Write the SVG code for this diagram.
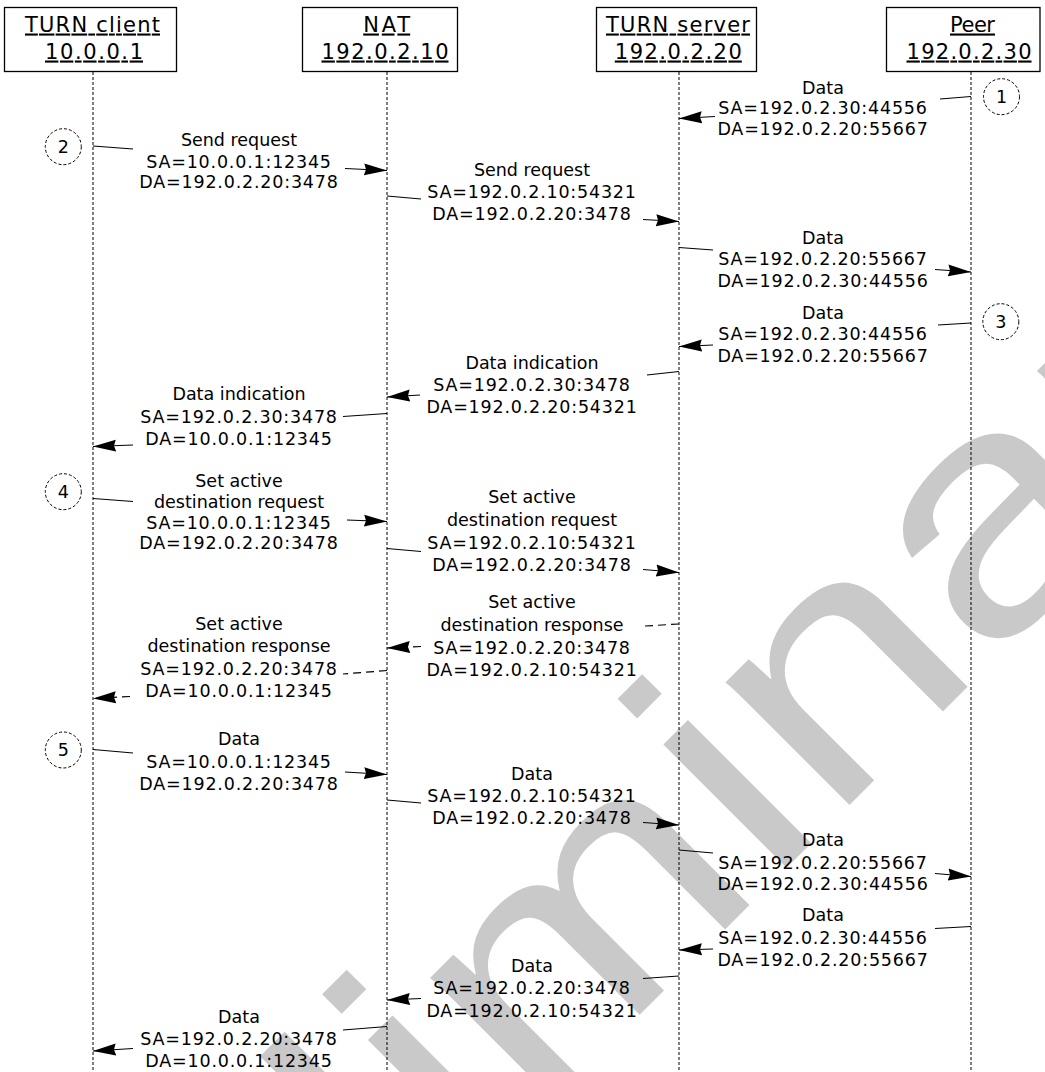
<svg xmlns="http://www.w3.org/2000/svg" width="1045" height="1072" viewBox="0 0 1045 1072">
<defs>
<style>
.bg{fill:#ffffff}
.wm{font-family:"Liberation Sans",Arial,sans-serif;font-size:330px;fill:#c9c9c9}
.box{fill:#ffffff;stroke:#000;stroke-width:1.3}
.hdr{font-family:"DejaVu Sans",Verdana,sans-serif;font-size:21px;fill:#000;text-anchor:middle;text-decoration:underline}
.life{stroke:#000;stroke-width:1;stroke-dasharray:3 2;fill:none}
.msg{stroke:#000;stroke-width:1.2;fill:none;marker-end:url(#ah)}
.dash{stroke-dasharray:8 5}
.lbl{font-family:"DejaVu Sans",Verdana,sans-serif;font-size:17.5px;fill:#000;text-anchor:middle}
.addr{letter-spacing:0.8px}
.step{fill:#ffffff;stroke:#000;stroke-width:1;stroke-dasharray:3 2}
.num{font-family:"DejaVu Sans",Verdana,sans-serif;font-size:17.5px;fill:#000;text-anchor:middle}
</style>
<marker id="ah" viewBox="0 0 23 13" refX="23" refY="6.5" markerWidth="23" markerHeight="13" markerUnits="userSpaceOnUse" orient="auto">
<path d="M0,0.5 L23,6.5 L0,12.5 L2,6.5 Z" fill="#000"/>
</marker>
</defs>
<rect class="bg" x="0" y="0" width="1045" height="1072"/>
<g id="watermark">
<text class="wm" transform="translate(-25.5 1680) rotate(-45) scale(1.2 1)">Preliminary</text>
</g>
<g id="turn-client">
<rect class="box" x="4.5" y="7.5" width="172" height="64"/>
<text class="hdr" x="92.5" y="31.5" textLength="135" lengthAdjust="spacing">TURN client</text>
<text class="hdr" x="94" y="58.5" textLength="98" lengthAdjust="spacing">10.0.0.1</text>
<line class="life" x1="93" y1="72" x2="93" y2="1072"/>
</g>
<g id="nat">
<rect class="box" x="302.5" y="7.5" width="155" height="64"/>
<text class="hdr" x="386.7" y="31.5" textLength="47" lengthAdjust="spacing">NAT</text>
<text class="hdr" x="385" y="58.5" textLength="127" lengthAdjust="spacing">192.0.2.10</text>
<line class="life" x1="387" y1="72" x2="387" y2="1072"/>
</g>
<g id="turn-server">
<rect class="box" x="596.5" y="7.5" width="160" height="64"/>
<text class="hdr" x="678" y="31.5" textLength="144" lengthAdjust="spacing">TURN server</text>
<text class="hdr" x="678.3" y="58.5" textLength="127" lengthAdjust="spacing">192.0.2.20</text>
<line class="life" x1="679" y1="72" x2="679" y2="1072"/>
</g>
<g id="peer">
<rect class="box" x="886.5" y="7.5" width="153.5" height="64"/>
<text class="hdr" x="972.5" y="31.5" textLength="45" lengthAdjust="spacing">Peer</text>
<text class="hdr" x="969" y="58.5" textLength="125" lengthAdjust="spacing">192.0.2.30</text>
<line class="life" x1="971" y1="72" x2="971" y2="1072"/>
</g>
<g id="step-1"><circle class="step" cx="1001.5" cy="96.7" r="18"/><text class="num" x="1001.5" y="103">1</text></g>
<g id="step-2"><circle class="step" cx="63.3" cy="146.7" r="18"/><text class="num" x="63.3" y="153">2</text></g>
<g id="step-3"><circle class="step" cx="1000.8" cy="321.7" r="18"/><text class="num" x="1000.8" y="328">3</text></g>
<g id="step-4"><circle class="step" cx="63.3" cy="491.7" r="18"/><text class="num" x="63.3" y="498">4</text></g>
<g id="step-5"><circle class="step" cx="63.3" cy="750" r="18"/><text class="num" x="63.3" y="756.3">5</text></g>
<g id="connectors">
<path id="c1" class="msg" d="M971,96.5 L940,99 M715,116.5 L679,118.5"/>
<path id="c2" class="msg" d="M93,146 L133,149 M345,168.5 L387,170.5"/>
<path id="c3" class="msg" d="M387,196 L421,199 M643,219.5 L679,221.5"/>
<path id="c4" class="msg" d="M679,247.5 L713,250 M935,269.5 L971,272"/>
<path id="c5" class="msg" d="M971,323 L938,325 M713,345 L679,346.5"/>
<path id="c6" class="msg" d="M679,371.5 L647,375 M420,395 L387,397"/>
<path id="c7" class="msg" d="M387,413.5 L343,416.5 M133,445 L93,446.5"/>
<path id="c8" class="msg" d="M93,498.5 L133,501.5 M347,520 L387,521.5"/>
<path id="c9" class="msg" d="M387,548.5 L421,551.5 M643,569.5 L679,572.5"/>
<path id="c10" class="msg dash" d="M679,624 L645,626 M421,646.5 L387,648"/>
<path id="c11" class="msg dash" d="M387,670.5 L343,674 M130,696.5 L93,698.5"/>
<path id="c12" class="msg" d="M93,749.5 L133,753 M345,772 L387,774.5"/>
<path id="c13" class="msg" d="M387,800 L421,803 M643,822.5 L679,825"/>
<path id="c14" class="msg" d="M679,850 L713,853 M935,873.5 L971,876.5"/>
<path id="c15" class="msg" d="M971,926.5 L935,928.5 M713,949 L679,950"/>
<path id="c16" class="msg" d="M679,976 L643,978.5 M421,998.5 L387,1000"/>
<path id="c17" class="msg" d="M387,1026.5 L343,1030 M133,1048.5 L93,1051"/>
</g>
<g id="labels">
<text id="l1" class="lbl"><tspan x="823" y="93.5">Data</tspan><tspan class="addr" x="823" y="114">SA=192.0.2.30:44556</tspan><tspan class="addr" x="823" y="134.5">DA=192.0.2.20:55667</tspan></text>
<text id="l2" class="lbl"><tspan x="239" y="146">Send request</tspan><tspan class="addr" x="239" y="167.5">SA=10.0.0.1:12345</tspan><tspan class="addr" x="239" y="187.5">DA=192.0.2.20:3478</tspan></text>
<text id="l3" class="lbl"><tspan x="532" y="175.5">Send request</tspan><tspan class="addr" x="532" y="197.5">SA=192.0.2.10:54321</tspan><tspan class="addr" x="532" y="219.5">DA=192.0.2.20:3478</tspan></text>
<text id="l4" class="lbl"><tspan x="823" y="243.5">Data</tspan><tspan class="addr" x="823" y="264.5">SA=192.0.2.20:55667</tspan><tspan class="addr" x="823" y="286.5">DA=192.0.2.30:44556</tspan></text>
<text id="l5" class="lbl"><tspan x="823" y="318.5">Data</tspan><tspan class="addr" x="823" y="339.5">SA=192.0.2.30:44556</tspan><tspan class="addr" x="823" y="361.5">DA=192.0.2.20:55667</tspan></text>
<text id="l6" class="lbl"><tspan x="532" y="368.5">Data indication</tspan><tspan class="addr" x="532" y="390.5">SA=192.0.2.30:3478</tspan><tspan class="addr" x="532" y="412.5">DA=192.0.2.20:54321</tspan></text>
<text id="l7" class="lbl"><tspan x="239" y="399.5">Data indication</tspan><tspan class="addr" x="239" y="422.5">SA=192.0.2.30:3478</tspan><tspan class="addr" x="239" y="444.5">DA=10.0.0.1:12345</tspan></text>
<text id="l8" class="lbl"><tspan x="239" y="487">Set active</tspan><tspan x="239" y="507.5">destination request</tspan><tspan class="addr" x="239" y="528.5">SA=10.0.0.1:12345</tspan><tspan class="addr" x="239" y="549">DA=192.0.2.20:3478</tspan></text>
<text id="l9" class="lbl"><tspan x="532" y="502.5">Set active</tspan><tspan x="532" y="525.5">destination request</tspan><tspan class="addr" x="532" y="548.5">SA=192.0.2.10:54321</tspan><tspan class="addr" x="532" y="570.5">DA=192.0.2.20:3478</tspan></text>
<text id="l10" class="lbl"><tspan x="532" y="607.5">Set active</tspan><tspan x="532" y="630.5">destination response</tspan><tspan class="addr" x="532" y="653.5">SA=192.0.2.20:3478</tspan><tspan class="addr" x="532" y="675.5">DA=192.0.2.10:54321</tspan></text>
<text id="l11" class="lbl"><tspan x="239" y="629.5">Set active</tspan><tspan x="239" y="652">destination response</tspan><tspan class="addr" x="239" y="674.5">SA=192.0.2.20:3478</tspan><tspan class="addr" x="239" y="696.5">DA=10.0.0.1:12345</tspan></text>
<text id="l12" class="lbl"><tspan x="239" y="744.5">Data</tspan><tspan class="addr" x="239" y="768">SA=10.0.0.1:12345</tspan><tspan class="addr" x="239" y="789.5">DA=192.0.2.20:3478</tspan></text>
<text id="l13" class="lbl"><tspan x="532" y="779.5">Data</tspan><tspan class="addr" x="532" y="801.5">SA=192.0.2.10:54321</tspan><tspan class="addr" x="532" y="823.5">DA=192.0.2.20:3478</tspan></text>
<text id="l14" class="lbl"><tspan x="823" y="846">Data</tspan><tspan class="addr" x="823" y="869">SA=192.0.2.20:55667</tspan><tspan class="addr" x="823" y="890">DA=192.0.2.30:44556</tspan></text>
<text id="l15" class="lbl"><tspan x="823" y="920.5">Data</tspan><tspan class="addr" x="823" y="943.5">SA=192.0.2.30:44556</tspan><tspan class="addr" x="823" y="965.5">DA=192.0.2.20:55667</tspan></text>
<text id="l16" class="lbl"><tspan x="532" y="971.5">Data</tspan><tspan class="addr" x="532" y="993.5">SA=192.0.2.20:3478</tspan><tspan class="addr" x="532" y="1016.5">DA=192.0.2.10:54321</tspan></text>
<text id="l17" class="lbl"><tspan x="239" y="1022.5">Data</tspan><tspan class="addr" x="239" y="1044.5">SA=192.0.2.20:3478</tspan><tspan class="addr" x="239" y="1066.5">DA=10.0.0.1:12345</tspan></text>
</g>
</svg>
